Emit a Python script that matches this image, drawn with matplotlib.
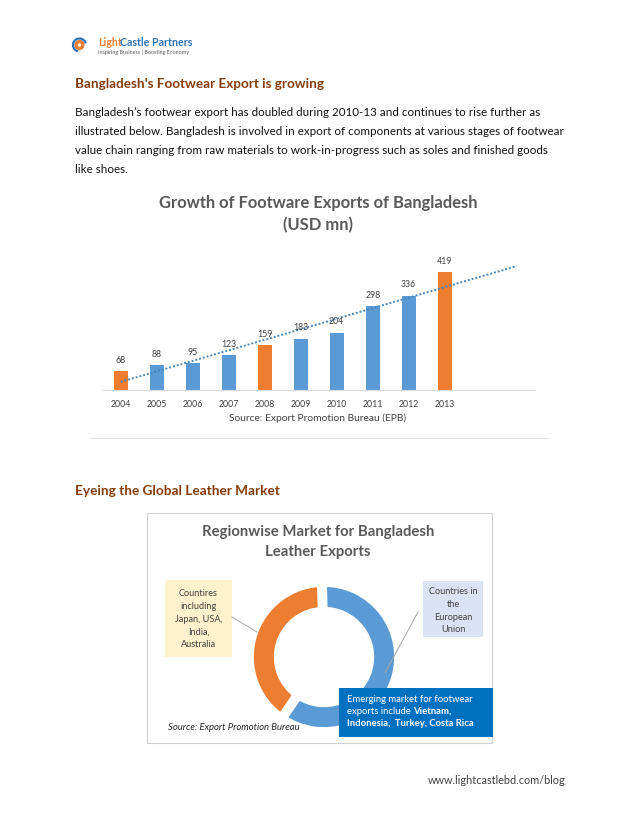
import numpy as np
import matplotlib
matplotlib.use('Agg')
import matplotlib.pyplot as plt
from matplotlib.patches import Rectangle, Arc, Circle

# --- datos ---
anios = ['2004', '2005', '2006', '2007', '2008', '2009', '2010', '2011', '2012', '2013']
exportaciones = [68, 88, 95, 123, 159, 183, 204, 298, 336, 419]
destacados = ['2004', '2008', '2013']

regiones = ['Japon, USA, India, Australia', 'Union Europea y emergentes']
cuotas = [40, 60]

parrafo = [
    "Bangladesh\u2019s footwear export has doubled during 2010-13 and continues to rise further as",
    "illustrated below. Bangladesh is involved in export of components at various stages of footwear",
    "value chain ranging from raw materials to work-in-progress such as soles and finished goods",
    "like shoes.",
]

AZUL = '#5B9BD5'
NARANJA = '#ED7D31'
GRIS = '#595959'

W, H = 638, 826
fig = plt.figure(figsize=(W / 100, H / 100), dpi=100)
plt.rcParams['font.family'] = ['Lato', 'DejaVu Sans']


def px_axes(x0, y0, x1, y1):
    return fig.add_axes([x0 / W, 1 - y1 / H, (x1 - x0) / W, (y1 - y0) / H])


# --- grafico de barras ---
ax = px_axes(102.7, 255, 534.7, 390)
x = np.arange(len(anios))
colores = [NARANJA if a in destacados else AZUL for a in anios]
ax.bar(x, exportaciones, width=0.39, color=colores)
for xi, v in zip(x, exportaciones):
    ax.text(xi, v + 22, str(v), ha='center', va='bottom', fontsize=6.3, color='#404040')
coef = np.polyfit(x, exportaciones, 1)
xt = np.linspace(0, 11, 50)
ax.plot(xt, np.polyval(coef, xt), ls=(0, (1, 1)), color='#4A86B8', lw=1.4)
ax.set_xlim(-0.5, 11.5)
ax.set_ylim(0, 480)
ax.set_xticks(x)
ax.set_xticklabels(anios, fontsize=6.3, color='#404040')
ax.tick_params(length=0, pad=7)
ax.set_yticks([])
for s in ['top', 'right', 'left']:
    ax.spines[s].set_visible(False)
ax.spines['bottom'].set_color('#D9D9D9')
ax.patch.set_alpha(0)

# --- anillo ---
cx, cy, R = 324, 657, 75
dn = px_axes(cx - 90, cy - 90, cx + 90, cy + 90)
dn.pie(cuotas, colors=[NARANJA, AZUL], startangle=91.5, radius=R / 90,
       wedgeprops=dict(width=29.7 / 90, edgecolor='white', linewidth=7))
dn.set_xlim(-1, 1)
dn.set_ylim(-1, 1)
dn.set_aspect('equal')
dn.axis('off')

# capa de pagina en pixeles (encima de todo)
page = fig.add_axes([0, 0, 1, 1])
page.set_xlim(0, W)
page.set_ylim(H, 0)
page.axis('off')
page.set_zorder(10)

# --- cabecera / logo ---
page.add_patch(Circle((79.5, 45), 3.4, fill=False, ec=NARANJA, lw=2.4))
page.add_patch(Arc((79.5, 45), 13, 13, theta1=105, theta2=345, ec='#2E75B6', lw=1.6))
page.text(98, 42.5, 'Light', color=NARANJA, fontsize=7.7, fontweight='bold', va='center')
page.text(119.8, 42.5, 'Castle Partners', color='#2E75B6', fontsize=7.7, fontweight='bold', va='center')
page.text(98, 52, 'Inspiring Business | Boosting Economy', color='#595959', fontsize=3.9, va='center')

page.text(75, 84, "Bangladesh's Footwear Export is growing", color='#843C0C',
          fontsize=9.75, fontweight='bold', va='center')
for i, linea in enumerate(parrafo):
    page.text(75, 113 + i * 18.8, linea, color='#111111', fontsize=8.4, va='center')

page.text(318, 203, 'Growth of Footware Exports of Bangladesh', color=GRIS,
          fontsize=11.9, fontweight='bold', ha='center', va='center')
page.text(318, 225, '(USD mn)', color=GRIS, fontsize=11.9, fontweight='bold',
          ha='center', va='center')
page.text(318, 418, 'Source: Export Promotion Bureau (EPB)', color='#404040',
          fontsize=7.4, ha='center', va='center')
page.plot([90, 548], [437.5, 437.5], color='#E3E3E3', lw=0.8)

# --- mercado del cuero ---
page.text(75, 491, 'Eyeing the Global Leather Market', color='#843C0C',
          fontsize=9.8, fontweight='bold', va='center')
page.add_patch(Rectangle((147, 513), 345, 230, fill=False, ec='#D0D0D0', lw=0.8))
page.text(318, 532, 'Regionwise Market for Bangladesh', color=GRIS, fontsize=10.7,
          fontweight='bold', ha='center', va='center')
page.text(318, 552, 'Leather Exports', color=GRIS, fontsize=10.7,
          fontweight='bold', ha='center', va='center')

# llamadas
page.plot([232, 257], [617, 632], color='#A6A6A6', lw=0.7)
page.plot([418, 385], [612, 673], color='#A6A6A6', lw=0.7)

page.add_patch(Rectangle((165, 580), 67, 77, color='#FFF2CC', lw=0))
for i, t in enumerate(['Countires', 'including', 'Japan, USA,', 'India,', 'Australia']):
    page.text(198.5, 594 + i * 12.6, t, ha='center', va='center', fontsize=6.6, color='#404040')

page.add_patch(Rectangle((423, 581), 60, 56, color='#DAE3F3', lw=0))
for i, t in enumerate(['Countries in', 'the', 'European', 'Union']):
    page.text(453, 592 + i * 12.5, t, ha='center', va='center', fontsize=6.6, color='#404040')

page.add_patch(Rectangle((339, 688), 154, 49, color='#0070C0', lw=0))
page.text(347, 699, 'Emerging market for footwear', color='white', fontsize=6.8, va='center')
t1 = page.text(347, 711, 'exports include ', color='white', fontsize=6.8, va='center')
page.text(347, 723, 'Indonesia,  Turkey, Costa Rica', color='white', fontsize=6.8,
          fontweight='bold', va='center')
fig.canvas.draw()
bb = t1.get_window_extent()
x_fin = page.transData.inverted().transform((bb.x1, bb.y0))[0]
page.text(x_fin, 711, 'Vietnam,', color='white', fontsize=6.8, fontweight='bold', va='center')

page.text(168, 728, 'Source: Export Promotion Bureau', color='#262626', fontsize=6.8,
          style='italic', va='center')

page.text(428, 781, 'www.lightcastlebd.com/blog', color='#404040', fontsize=7.8, va='center')

fig.savefig('out.png', dpi=100)
